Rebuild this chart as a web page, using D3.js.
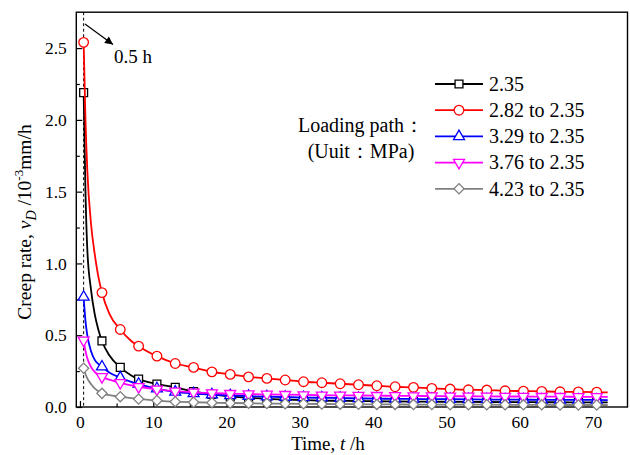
<!DOCTYPE html>
<html>
<head>
<meta charset="utf-8">
<script src="https://cdn.jsdelivr.net/npm/d3@7/dist/d3.min.js"></script>
<style>
  html, body { margin: 0; padding: 0; background: #fff; }
  svg { display: block; font-family: "Liberation Serif", "DejaVu Serif", serif; }
  svg text { font-family: "Liberation Serif", "DejaVu Serif", serif !important; fill: #000; }
</style>
</head>
<body>
<svg id="chart" width="630" height="455"></svg>
<script>
// ---- data ----
const times = [0.5, 0.75, 1, 1.5, 2, 2.5, 3, 4, 5.5, 7, 8, 10.5, 13, 15.5, 18, 20.5, 23, 25.5, 28, 30.5,
  33, 35.5, 38, 40.5, 43, 45.5, 48, 50.5, 53, 55.5, 58, 60.5, 63, 65.5, 68, 70.5, 72];
const markerTimes = [0.5, 3, 5.5, 8, 10.5, 13, 15.5, 18, 20.5, 23, 25.5, 28, 30.5, 33, 35.5, 38, 40.5,
  43, 45.5, 48, 50.5, 53, 55.5, 58, 60.5, 63, 65.5, 68, 70.5];
const seriesNames = ["2.35", "2.82 to 2.35", "3.29 to 2.35", "3.76 to 2.35", "4.23 to 2.35"];
const v235 = [2.19, 1.5, 1.1, 0.82, 0.65, 0.54, 0.46, 0.36, 0.276, 0.22, 0.194, 0.16, 0.137, 0.108, 0.088,
  0.074, 0.064, 0.057, 0.052, 0.048, 0.045, 0.043, 0.041, 0.04, 0.039, 0.038, 0.037, 0.036, 0.035, 0.035,
  0.034, 0.034, 0.033, 0.033, 0.032, 0.032, 0.032];
const v282 = [2.54, 2.0, 1.65, 1.28, 1.07, 0.91, 0.797, 0.65, 0.54, 0.46, 0.424, 0.354, 0.303, 0.276, 0.245,
  0.227, 0.21, 0.199, 0.188, 0.176, 0.169, 0.162, 0.155, 0.148, 0.141, 0.137, 0.13, 0.125, 0.12, 0.118,
  0.113, 0.111, 0.109, 0.106, 0.105, 0.103, 0.102];
const v329 = [0.766, 0.6, 0.5, 0.39, 0.33, 0.3, 0.28, 0.24, 0.204, 0.175, 0.16, 0.128, 0.105, 0.094, 0.086,
  0.08, 0.076, 0.072, 0.069, 0.066, 0.064, 0.062, 0.06, 0.058, 0.057, 0.056, 0.055, 0.054, 0.053, 0.052,
  0.052, 0.051, 0.05, 0.05, 0.049, 0.049, 0.048];
const v376 = [0.465, 0.39, 0.34, 0.28, 0.245, 0.225, 0.21, 0.19, 0.169, 0.15, 0.141, 0.123, 0.11, 0.102, 0.097,
  0.093, 0.09, 0.088, 0.086, 0.084, 0.082, 0.081, 0.08, 0.079, 0.078, 0.077, 0.076, 0.075, 0.075, 0.074,
  0.073, 0.073, 0.072, 0.072, 0.071, 0.071, 0.07];
const v423 = [0.27, 0.23, 0.2, 0.16, 0.13, 0.11, 0.095, 0.082, 0.072, 0.062, 0.056, 0.045, 0.037, 0.033, 0.03,
  0.028, 0.026, 0.024, 0.023, 0.022, 0.021, 0.02, 0.019, 0.018, 0.018, 0.017, 0.017, 0.016, 0.016, 0.016,
  0.015, 0.015, 0.015, 0.014, 0.014, 0.014, 0.014];
const xTicks = [0, 10, 20, 30, 40, 50, 60, 70];
const xMinorTicks = [5, 15, 25, 35, 45, 55, 65];
const yTicks = [0, 0.5, 1.0, 1.5, 2.0, 2.5];
const yMinorTicks = [0.25, 0.75, 1.25, 1.75, 2.25];

// ---- styles ----
const FONT = "'Liberation Serif', 'DejaVu Serif', serif";
const colors = ["#000000", "#ff0000", "#0000ff", "#ff00ff", "#808080"];
const symbols = [
  {type: d3.symbolSquare, size: 62, rot: 0},
  {type: d3.symbolCircle, size: 72, rot: 0},
  {type: d3.symbolTriangle, size: 52, rot: 0},
  {type: d3.symbolTriangle, size: 52, rot: 180},
  {type: d3.symbolSquare, size: 52, rot: 45}
];
const values = [v235, v282, v329, v376, v423];

const svg = d3.select("#chart");
const x = d3.scaleLinear().domain([-0.5, 74.7]).range([76.3, 627.5]);
const y = d3.scaleLinear().domain([0, 2.75]).range([407, 12.2]);

// frame
svg.append("rect").attr("x", x.range()[0]).attr("y", y.range()[1])
  .attr("width", x.range()[1] - x.range()[0]).attr("height", y.range()[0] - y.range()[1])
  .attr("fill", "none").attr("stroke", "#000").attr("stroke-width", 1.4);

// axes
const gx = svg.append("g").attr("transform", `translate(0,${y.range()[0]})`)
  .call(d3.axisBottom(x).tickValues(xTicks).tickSize(-6).tickPadding(9).tickFormat(d3.format("d")));
const gxm = svg.append("g").attr("transform", `translate(0,${y.range()[0]})`)
  .call(d3.axisBottom(x).tickValues(xMinorTicks).tickSize(-3.5).tickFormat(""));
const gy = svg.append("g").attr("transform", `translate(${x.range()[0]},0)`)
  .call(d3.axisLeft(y).tickValues(yTicks).tickSize(-6).tickPadding(9.5).tickFormat(d3.format(".1f")));
const gym = svg.append("g").attr("transform", `translate(${x.range()[0]},0)`)
  .call(d3.axisLeft(y).tickValues(yMinorTicks).tickSize(-3.5).tickFormat(""));
[gx, gxm, gy, gym].forEach(g => {
  g.attr("font-family", null).attr("font-size", null);
  g.select(".domain").remove();
  g.selectAll(".tick line").attr("stroke", "#000").attr("stroke-width", 1.2);
  g.selectAll(".tick text").style("font-family", FONT).style("font-size", "17.5px").attr("fill", "#000");
});

// dashed line at 0.5 h
svg.append("line").attr("x1", x(0.5)).attr("x2", x(0.5)).attr("y1", y.range()[1]).attr("y2", y.range()[0])
  .attr("stroke", "#000").attr("stroke-width", 1).attr("stroke-dasharray", "3,2.5");

// arrow annotation
const defs = svg.append("defs");
defs.append("marker").attr("id", "arr").attr("viewBox", "0 0 10 10").attr("refX", 10).attr("refY", 5)
  .attr("markerWidth", 11).attr("markerHeight", 8).attr("markerUnits", "userSpaceOnUse").attr("orient", "auto")
  .append("path").attr("d", "M0,0 L10,5 L0,10 Z").attr("fill", "#000");
svg.append("line").attr("x1", 85).attr("y1", 24).attr("x2", 113).attr("y2", 44.5)
  .attr("stroke", "#000").attr("stroke-width", 1.2).attr("marker-end", "url(#arr)");
svg.append("text").attr("x", 114).attr("y", 62.5).style("font-size", "19px").text("0.5 h");

// series
const line = d3.line().x(d => x(d[0])).y(d => y(d[1])).curve(d3.curveMonotoneX);
values.forEach((vals, i) => {
  const pts = times.map((t, j) => [t, vals[j]]);
  const g = svg.append("g");
  g.append("path").datum(pts).attr("d", line).attr("fill", "none")
    .attr("stroke", colors[i]).attr("stroke-width", 1.8);
  const mpts = pts.filter(p => markerTimes.includes(p[0]));
  g.selectAll("path.m").data(mpts).join("path").attr("class", "m")
    .attr("d", d3.symbol().type(symbols[i].type).size(symbols[i].size))
    .attr("transform", d => `translate(${x(d[0])},${y(d[1])}) rotate(${symbols[i].rot})`)
    .attr("fill", "#fff").attr("stroke", colors[i]).attr("stroke-width", 1.3);
});

// legend
const lg = svg.append("g");
seriesNames.forEach((name, i) => {
  const yy = 84 + i * 26.2;
  lg.append("line").attr("x1", 435).attr("x2", 483).attr("y1", yy).attr("y2", yy)
    .attr("stroke", colors[i]).attr("stroke-width", 1.8);
  lg.append("path").attr("d", d3.symbol().type(symbols[i].type).size(symbols[i].size))
    .attr("transform", `translate(459,${yy}) rotate(${symbols[i].rot})`)
    .attr("fill", "#fff").attr("stroke", colors[i]).attr("stroke-width", 1.3);
  lg.append("text").attr("x", 489).attr("y", yy + 6.8).style("font-size", "20px").text(name);
});
lg.append("text").attr("x", 361).attr("y", 131.5).attr("text-anchor", "middle").style("font-size", "20px").text("Loading path：");
lg.append("text").attr("x", 361).attr("y", 158).attr("text-anchor", "middle").style("font-size", "20px").text("(Uuit：MPa)");

// axis titles
const xt = svg.append("text").attr("x", 328).attr("y", 449.5).attr("text-anchor", "middle").style("font-size", "19px");
xt.append("tspan").text("Time, ");
xt.append("tspan").attr("font-style", "italic").text("t");
xt.append("tspan").text(" /h");

const yt = svg.append("text").attr("transform", "translate(31,222) rotate(-90)")
  .attr("text-anchor", "middle").style("font-size", "19.5px");
yt.append("tspan").text("Creep rate, ");
yt.append("tspan").attr("font-style", "italic").text("v");
yt.append("tspan").attr("font-style", "italic").style("font-size", "14px").attr("dy", 5).text("D");
yt.append("tspan").attr("dy", -5).text(" /10");
yt.append("tspan").style("font-size", "13px").attr("dy", -8).text("-3");
yt.append("tspan").attr("dy", 8).text("mm/h");
</script>
</body>
</html>
